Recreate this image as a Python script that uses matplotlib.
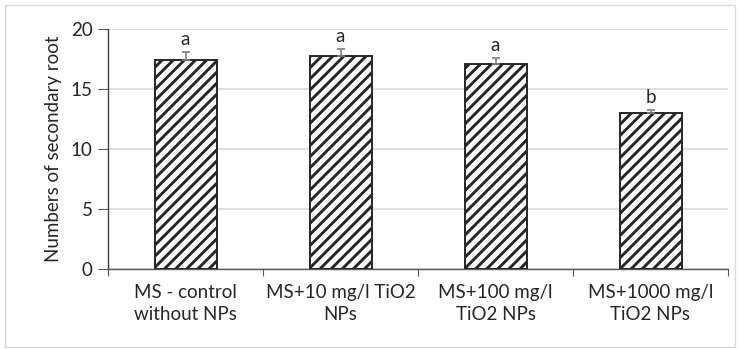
import matplotlib
matplotlib.use("Agg")
import matplotlib.pyplot as plt
from matplotlib.patches import Rectangle

categories = ["MS - control\nwithout NPs", "MS+10 mg/l TiO2\nNPs", "MS+100 mg/l\nTiO2 NPs", "MS+1000 mg/l\nTiO2 NPs"]
values = [17.45, 17.75, 17.1, 12.97]
errors = [0.6, 0.55, 0.5, 0.3]
letters = ["a", "a", "a", "b"]
yticks = [0, 5, 10, 15, 20]

plt.rcParams['font.family'] = ['Lato', 'DejaVu Sans']
plt.rcParams['hatch.linewidth'] = 2.1
plt.rcParams['hatch.color'] = 'black'

fs = 13.5
fig = plt.figure(figsize=(7.4, 3.49), dpi=100)
ax = fig.add_axes([108/740, 1-269/349, (728-108)/740, (269-29)/349])

x = list(range(len(categories)))
bars = ax.bar(x, values, width=0.4, color='white', edgecolor='#262626', linewidth=1.4,
              hatch='///', zorder=3)
ax.errorbar(x, values, yerr=[[0]*len(errors), errors], fmt='none', ecolor='#808080',
            elinewidth=1.2, capsize=3, capthick=1.2, zorder=4)
for xi, v, e, l in zip(x, values, errors, letters):
    ax.annotate(l, (xi, v + e), xytext=(0, 3), textcoords='offset points',
                ha='center', va='bottom', fontsize=fs, color='#262626')

ax.set_xlim(-0.5, len(categories) - 0.5)
ax.set_ylim(0, 20)
ax.set_yticks(yticks)
ax.set_yticklabels([str(t) for t in yticks], fontsize=fs, color='#262626')
ax.yaxis.grid(True, color='#d9d9d9', linewidth=1.2, zorder=0)
ax.set_axisbelow(True)
ax.set_xticks([i + 0.5 for i in range(-1, len(categories))])
ax.set_xticklabels([])
ax.set_xticks(x, minor=True)
ax.set_xticklabels(categories, minor=True, fontsize=fs, color='#262626', linespacing=1.35)
ax.tick_params(axis='x', which='major', length=5, color='#595959', direction='out')
ax.tick_params(axis='x', which='minor', length=0, pad=11)
ax.tick_params(axis='y', length=7, color='#595959', pad=4)
for s in ['top', 'right']:
    ax.spines[s].set_visible(False)
ax.spines['left'].set_color('#404040')
ax.spines['bottom'].set_color('#595959')
ax.spines['left'].set_linewidth(1.0)
ax.spines['bottom'].set_linewidth(1.0)
ax.set_ylabel("Numbers of secondary root", fontsize=fs, color='#262626', labelpad=6)

fig.patches.append(Rectangle((5/740, 2/349), 730/740, 342/349, transform=fig.transFigure,
                             fill=False, edgecolor='#d9d9d9', linewidth=1.0))
fig.savefig("out.png", dpi=100)
